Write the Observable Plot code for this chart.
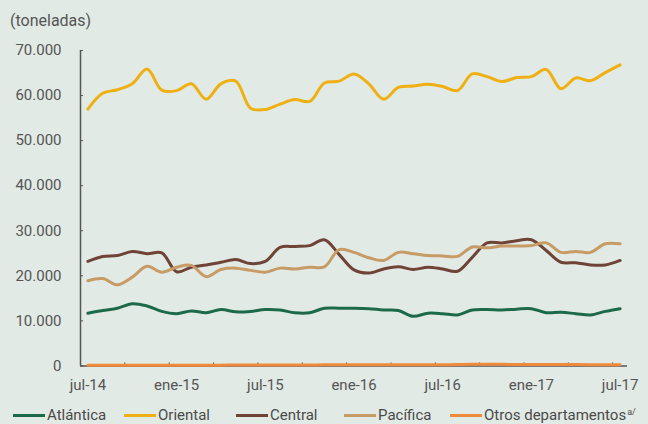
<!DOCTYPE html>
<html><head><meta charset="utf-8">
<script src="https://cdn.jsdelivr.net/npm/d3@7"></script>
<script src="https://cdn.jsdelivr.net/npm/@observablehq/plot@0.6"></script>
<style>
html,body{margin:0;padding:0;background:#e2eae5;}
#wrap{position:relative;width:648px;height:424px;overflow:hidden;font-family:Roboto,sans-serif;background:#e2eae5;}
#title{position:absolute;left:10px;top:10px;font-size:16px;line-height:21px;color:#555;}
#chart{position:absolute;left:0;top:30px;}
#legend{position:absolute;left:0;top:404px;height:22px;width:648px;font-size:15px;color:#4a4a4a;}
.item{position:absolute;top:0;display:flex;align-items:center;height:22px;white-space:nowrap;}
.sw{width:32px;height:3px;margin-right:2px;flex:none;}
.tx{line-height:22px;}
.tx sup{font-size:9px;vertical-align:5px;line-height:0;margin-left:1px;}
</style></head><body>
<div id="wrap"><div id="title">(toneladas)</div><div id="chart"></div><div id="legend"></div></div>
<script>
const months = ["jul-14","ago-14","sep-14","oct-14","nov-14","dic-14","ene-15","feb-15","mar-15","abr-15","may-15","jun-15",
  "jul-15","ago-15","sep-15","oct-15","nov-15","dic-15","ene-16","feb-16","mar-16","abr-16","may-16","jun-16",
  "jul-16","ago-16","sep-16","oct-16","nov-16","dic-16","ene-17","feb-17","mar-17","abr-17","may-17","jun-17","jul-17"];
const xTickLabels = ["jul-14","ene-15","jul-15","ene-16","jul-16","ene-17","jul-17"];
const yTicks = [0,10000,20000,30000,40000,50000,60000,70000];

const atlantica = [11700,12300,12800,13800,13300,12100,11600,12200,11800,12500,12000,12100,12500,12400,11800,11800,12800,12800,12800,12700,12400,12300,11000,11700,11600,11300,12400,12500,12400,12600,12700,11800,11900,11600,11300,12100,12700];
const oriental  = [57000,60500,61300,62600,65900,61200,61100,62600,59200,62600,63200,57200,56900,58100,59100,58700,62800,63200,64800,62600,59200,61800,62100,62500,62000,61100,64800,64200,63100,64000,64200,65800,61500,63900,63300,65100,66800];
const central   = [23200,24300,24500,25400,24900,25100,20900,21900,22400,23000,23600,22700,23200,26300,26500,26700,28000,24700,21300,20600,21500,22000,21400,21900,21500,21000,24100,27300,27300,27800,28000,25600,23000,22900,22400,22400,23400];
const pacifica  = [18900,19400,18000,19700,22100,20800,21900,22300,19800,21400,21700,21200,20800,21700,21500,21900,22000,25800,25200,24000,23400,25200,24900,24500,24400,24300,26400,26200,26600,26600,26700,27300,25200,25400,25200,27100,27100];
const otros     = [150,150,150,150,150,150,150,150,150,150,200,200,200,200,200,200,250,250,250,250,250,250,250,250,250,300,350,350,350,300,300,300,300,300,250,250,250];

const seriesNames = ["Atlántica","Oriental","Central","Pacífica","Otros departamentos"];
const seriesColors = ["#1d6a4b","#efb013","#6f4336","#c69b66","#ef8a3a"];
const seriesValues = [atlantica, oriental, central, pacifica, otros];

const rows = [];
seriesNames.forEach((name, s) => seriesValues[s].forEach((v, i) => rows.push({serie: name, i, month: months[i], v})));
const mainRows = rows.filter(d => d.serie !== "Otros departamentos");
const otrosRows = rows.filter(d => d.serie === "Otros departamentos");

const fmt = d3.formatLocale({decimal: ",", thousands: ".", grouping: [3], currency: ["", ""]}).format(",");
const labelIdx = xTickLabels.map(m => months.indexOf(m));
const boundaryTicks = d3.range(2.5, months.length - 1, 3);

const plot = Plot.plot({
  width: 648, height: 370,
  marginLeft: 80, marginRight: 21, marginTop: 20, marginBottom: 34.6,
  style: {background: "transparent", fontFamily: "Roboto, sans-serif", fontSize: "15px", color: "#555", overflow: "visible"},
  x: {domain: [-0.5, months.length - 0.5]},
  y: {domain: [0, 70000]},
  color: {domain: seriesNames, range: seriesColors},
  marks: [
    Plot.axisY({ticks: yTicks, tickSize: 0, tickPadding: 19, tickFormat: fmt, fontSize: 15, fill: "#555", label: null}),
    Plot.axisY({ticks: yTicks, tickSize: -3, text: null, stroke: "#555", label: null}),
    Plot.axisX({ticks: labelIdx, tickSize: 0, tickPadding: 13, tickFormat: i => months[i], fontSize: 15, fill: "#555", label: null}),
    Plot.axisX({ticks: boundaryTicks, tickSize: -3, text: null, stroke: "#555", label: null}),
    Plot.line(mainRows, {x: "i", y: "v", z: "serie", stroke: "serie", strokeWidth: 3, curve: "catmull-rom"}),
    Plot.ruleX([-0.5], {y1: 0, y2: 70000, stroke: "#555", strokeWidth: 1.5}),
    Plot.ruleY([0], {x1: -0.5, x2: months.length - 0.5, stroke: "#555", strokeWidth: 1.5}),
    Plot.line(otrosRows, {x: "i", y: "v", z: "serie", stroke: "serie", strokeWidth: 3, curve: "catmull-rom"})
  ]
});
document.getElementById("chart").appendChild(plot);

const legendLefts = [13, 124, 236, 344, 450];
const legend = document.getElementById("legend");
seriesNames.forEach((name, s) => {
  const item = document.createElement("div");
  item.className = "item";
  item.style.left = legendLefts[s] + "px";
  const sw = document.createElement("span");
  sw.className = "sw";
  sw.style.background = seriesColors[s];
  const tx = document.createElement("span");
  tx.className = "tx";
  tx.textContent = name;
  if (s === 4) { const sup = document.createElement("sup"); sup.textContent = "a/"; tx.appendChild(sup); }
  item.appendChild(sw);
  item.appendChild(tx);
  legend.appendChild(item);
});
</script>
</body></html>
